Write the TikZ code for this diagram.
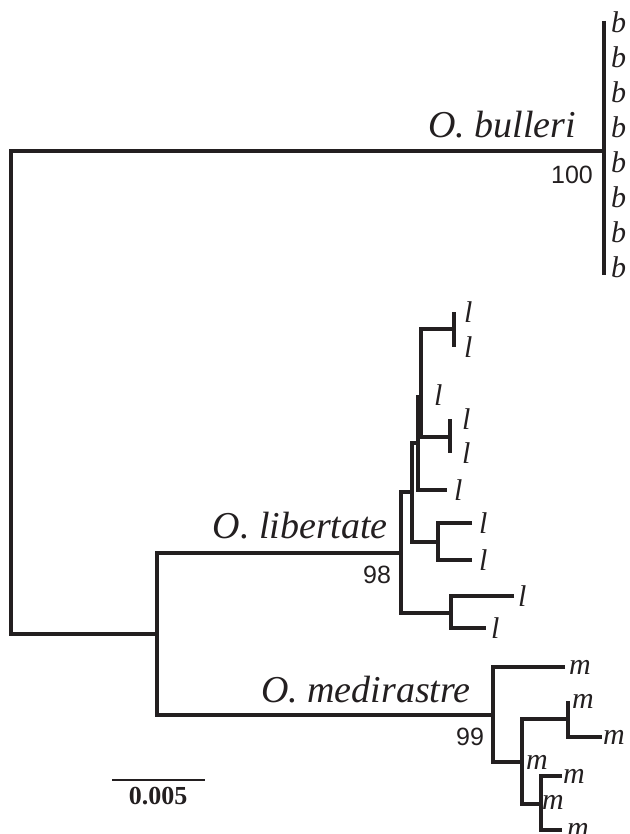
\documentclass[tikz,border=0pt]{standalone}
\usepackage{fontspec}
\setmainfont{Liberation Serif}
\newfontfamily\bootfont{Liberation Sans}
\usetikzlibrary{positioning}
\definecolor{ink}{HTML}{231F20}
\tikzset{
  br/.style={line width=3.3pt, draw=ink},
  bar/.style={line width=2.3pt, draw=ink},
  tip/.style={inner sep=0pt, text=ink, font=\fontsize{30}{30}\selectfont\itshape},
  sp/.style={anchor=base east, inner sep=0pt, text=ink, font=\fontsize{38}{38}\selectfont\itshape},
  boot/.style={inner sep=0pt, text=ink, font=\bootfont\fontsize{25}{25}\selectfont},
}

\begin{document}
\begin{tikzpicture}[x=1pt,y=-1pt]
  \useasboundingbox (0,0) rectangle (629,834);
  % backbone
  \coordinate (root) at (11,392);
  \coordinate (bul) at (604,151);
  \coordinate (lm) at (157,634);
  \coordinate (lib) at (401,553);
  \coordinate (med) at (493,715);
  \draw[br] (bul) -| (root) |- (lm);
  \draw[br] (lib) -| (lm) |- (med);
  % O. bulleri
  \coordinate (bt) at (604,21);
  \coordinate (bb) at (604,275);
  \draw[br] (bt) -- (bb);
  \foreach \i in {0,...,7}
    \node[tip, anchor=west] (b\i) at (611,{22+35*\i}) {b};
  % O. libertate
  \coordinate (lB) at (412,492);
  \coordinate (lF) at (451,613);
  \coordinate (lC) at (418,443);
  \coordinate (lD) at (438,542);
  \coordinate (lE) at (421,410);
  \coordinate (lP) at (454,329);
  \coordinate (lQ) at (450,437);
  \coordinate (t1) at (454,312);
  \coordinate (t2) at (454,347);
  \coordinate (t3) at (418,395);
  \coordinate (t4) at (450,419);
  \coordinate (t5) at (450,453);
  \coordinate (t6) at (447,490);
  \coordinate (t7) at (472,523);
  \coordinate (t8) at (472,560);
  \coordinate (t9) at (514,596);
  \coordinate (t10) at (486,628);
  \draw[br] (lB) -| (lib) |- (lF);
  \draw[br] (lC) -| (lB) |- (lD);
  \draw[br] (t3) -| (lC) |- (t6);
  \draw[br] (lC) |- (lE);
  \draw[br] (lP) -| (lE) |- (lQ);
  \draw[br] (t1) -- (t2);
  \draw[br] (t4) -- (t5);
  \draw[br] (t7) -| (lD) |- (t8);
  \draw[br] (t9) -| (lF) |- (t10);
  \foreach \t/\d in {1/10,2/10,3/16,4/12,5/12,6/7,7/7,8/7,9/4,10/5}
    \node[tip, right=\d pt of t\t] (l\t) {l};
  % O. medirastre
  \coordinate (mN) at (522,762);
  \coordinate (mO) at (568,719);
  \coordinate (mP) at (541,804);
  \coordinate (u1) at (565,667);
  \coordinate (u2) at (568,701);
  \coordinate (u3) at (602,737);
  \coordinate (u4) at (522,762);
  \coordinate (u5) at (562,776);
  \coordinate (u6) at (541,802);
  \coordinate (u7) at (562,830);
  \draw[br] (u1) -| (med) |- (mN);
  \draw[br] (mO) -| (mN) |- (mP);
  \draw[br] (u2) -| (mO) |- (u3);
  \draw[br] (u5) -| (mP) |- (u7);
  \foreach \u/\d in {1/4,2/4,3/1,4/4,5/1,6/1,7/5}
    \node[tip, right=\d pt of u\u] (m\u) {m};
  % clade names and support
  \node[sp] (nbul) at (576,138) {O. bulleri};
  \node[sp] (nlib) at (388,538) {O. libertate};
  \node[sp] (nmed) at (471,702) {O. medirastre};
  \node[boot] (s100) at (572,175) {100};
  \node[boot] (s98) at (377,575) {98};
  \node[boot] (s99) at (470,737) {99};
  % scale
  \coordinate (sa) at (112,780);
  \coordinate (sb) at (205,780);
  \draw[bar] (sa) -- (sb);
  \node[inner sep=0pt, text=ink, font=\bfseries\fontsize{26}{26}\selectfont] (sc) at (158,796) {0.005};
\end{tikzpicture}
\end{document}
